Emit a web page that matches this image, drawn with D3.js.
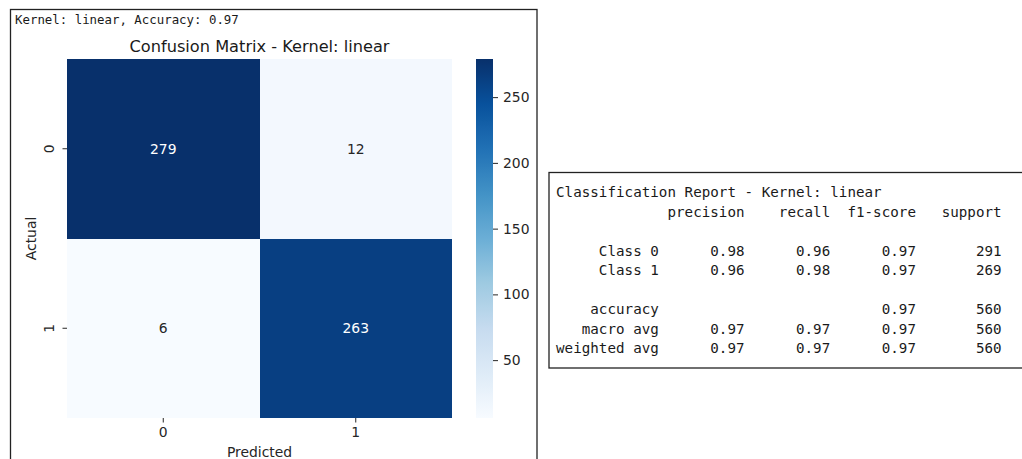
<!DOCTYPE html>
<html>
<head>
<meta charset="utf-8">
<script src="https://cdn.jsdelivr.net/npm/d3@7"></script>
<style>
  html, body { margin: 0; padding: 0; background: #fff; }
  svg { display: block; }
</style>
</head>
<body>
<svg id="fig" width="1022" height="459"></svg>
<script>
// Confusion matrix for the linear-kernel SVM
const actualLabels = ["0", "1"];
const predictedLabels = ["0", "1"];
const matrix = [
  [279, 12],
  [6, 263]
];
const colorbarTicks = [50, 100, 150, 200, 250];
const kernel = "linear";
const accuracy = 0.97;

// Classification report rows
const reportHeader = ["precision", "recall", "f1-score", "support"];
const reportClasses = ["Class 0", "Class 1"];
const precision = [0.98, 0.96];
const recall = [0.96, 0.98];
const f1 = [0.97, 0.97];
const support = [291, 269];
const avgLabels = ["macro avg", "weighted avg"];
const avgPrecision = [0.97, 0.97];
const avgRecall = [0.97, 0.97];
const avgF1 = [0.97, 0.97];
const totalSupport = 560;

const svg = d3.select("#fig");
const sans = "'DejaVu Sans', sans-serif";
const mono = "'DejaVu Sans Mono', monospace";

// Matplotlib-style "Blues" colormap (linear segments between ColorBrewer stops)
const bluesStops = ["#f7fbff", "#deebf7", "#c6dbef", "#9ecae1", "#6baed6", "#4292c6", "#2171b5", "#08519c", "#08306b"];
const blues = d3.scaleLinear()
  .domain(bluesStops.map((_, i) => i / (bluesStops.length - 1)))
  .range(bluesStops)
  .interpolate(d3.interpolateRgb)
  .clamp(true);

const flat = matrix.flat();
const vmin = d3.min(flat), vmax = d3.max(flat);
const norm = d3.scaleLinear().domain([vmin, vmax]).range([0, 1]);
const color = v => blues(norm(v));

// ---------- Left panel ----------
svg.append("rect")
  .attr("x", 10.5).attr("y", 9.5)
  .attr("width", 526.5).attr("height", 460)
  .attr("fill", "none").attr("stroke", "#222").attr("stroke-width", 1.3);

svg.append("text")
  .attr("x", 15).attr("y", 24)
  .attr("font-family", mono).attr("font-size", 12.4).attr("fill", "#1a1a1a")
  .text(`Kernel: ${kernel}, Accuracy: ${accuracy.toFixed(2)}`);

const hm = { x0: 67, x1: 452, y0: 59, y1: 418 };

const x = d3.scaleBand().domain(predictedLabels).range([hm.x0, hm.x1]);
const y = d3.scaleBand().domain(actualLabels).range([hm.y0, hm.y1]);

svg.append("text")
  .attr("x", (hm.x0 + hm.x1) / 2).attr("y", 52)
  .attr("text-anchor", "middle")
  .attr("font-family", sans).attr("font-size", 16.2).attr("fill", "#1a1a1a")
  .text(`Confusion Matrix - Kernel: ${kernel}`);

const cells = [];
matrix.forEach((row, i) => row.forEach((v, j) => cells.push({ r: actualLabels[i], c: predictedLabels[j], v })));

svg.append("g").selectAll("rect").data(cells).join("rect")
  .attr("x", d => x(d.c)).attr("y", d => y(d.r))
  .attr("width", x.bandwidth()).attr("height", y.bandwidth())
  .attr("fill", d => color(d.v))
  .attr("shape-rendering", "crispEdges");

svg.append("g").selectAll("text").data(cells).join("text")
  .attr("x", d => x(d.c) + x.bandwidth() / 2)
  .attr("y", d => y(d.r) + y.bandwidth() / 2)
  .attr("dy", "0.36em")
  .attr("text-anchor", "middle")
  .attr("font-family", sans).attr("font-size", 13.9)
  .attr("fill", d => norm(d.v) > 0.5 ? "#ffffff" : "#262626")
  .text(d => d.v);

// x axis
const xAxis = svg.append("g")
  .attr("transform", `translate(0,${hm.y1})`)
  .call(d3.axisBottom(x).tickSize(4.5).tickPadding(5));
xAxis.select(".domain").remove();
xAxis.selectAll("line").attr("stroke", "#262626").attr("stroke-width", 1);
xAxis.selectAll("text").attr("font-family", sans).attr("font-size", 13.9).attr("fill", "#262626");

svg.append("text")
  .attr("x", (hm.x0 + hm.x1) / 2).attr("y", 457)
  .attr("text-anchor", "middle")
  .attr("font-family", sans).attr("font-size", 13.9).attr("fill", "#262626")
  .text("Predicted");

// y axis with rotated tick labels centred on their rows
const yAxis = svg.append("g")
  .attr("transform", `translate(${hm.x0},0)`)
  .call(d3.axisLeft(y).tickSize(4.5).tickPadding(5));
yAxis.select(".domain").remove();
yAxis.selectAll("line").attr("stroke", "#262626").attr("stroke-width", 1);
yAxis.selectAll(".tick text")
  .attr("font-family", sans).attr("font-size", 13.9).attr("fill", "#262626")
  .attr("text-anchor", "middle")
  .attr("x", 0).attr("y", 0).attr("dy", "0.36em")
  .attr("transform", "translate(-18,0) rotate(-90)");

svg.append("text")
  .attr("transform", `translate(36,${(hm.y0 + hm.y1) / 2}) rotate(-90)`)
  .attr("text-anchor", "middle")
  .attr("font-family", sans).attr("font-size", 13.9).attr("fill", "#262626")
  .text("Actual");

// colorbar
const cb = { x: 476, w: 17 };
const cbScale = d3.scaleLinear().domain([vmin, vmax]).range([hm.y1, hm.y0]);
const defs = svg.append("defs");
const grad = defs.append("linearGradient").attr("id", "cbgrad")
  .attr("x1", 0).attr("y1", 1).attr("x2", 0).attr("y2", 0);
d3.range(0, 1.0001, 1 / 64).forEach(t => {
  grad.append("stop").attr("offset", t).attr("stop-color", blues(t));
});
svg.append("rect")
  .attr("x", cb.x).attr("y", hm.y0)
  .attr("width", cb.w).attr("height", hm.y1 - hm.y0)
  .attr("fill", "url(#cbgrad)");

const cbAxis = svg.append("g")
  .attr("transform", `translate(${cb.x + cb.w},0)`)
  .call(d3.axisRight(cbScale).tickValues(colorbarTicks).tickSize(5).tickPadding(5));
cbAxis.select(".domain").remove();
cbAxis.selectAll("line").attr("stroke", "#262626");
cbAxis.selectAll("text").attr("font-family", sans).attr("font-size", 13.9).attr("fill", "#262626");

// ---------- Right panel: classification report ----------
svg.append("rect")
  .attr("x", 549).attr("y", 172.5)
  .attr("width", 500).attr("height", 195.5)
  .attr("fill", "none").attr("stroke", "#222").attr("stroke-width", 1.3);

const pad = (s, n) => String(s).padStart(n, " ");
const f2 = v => v.toFixed(2);
const lines = [
  `Classification Report - Kernel: ${kernel}`,
  pad("", 12) + reportHeader.map(h => pad(h, 10)).join(""),
  ""
];
reportClasses.forEach((c, i) => {
  lines.push(pad(c, 12) + pad(f2(precision[i]), 10) + pad(f2(recall[i]), 10) + pad(f2(f1[i]), 10) + pad(support[i], 10));
});
lines.push("");
lines.push(pad("accuracy", 12) + pad("", 20) + pad(f2(accuracy), 10) + pad(totalSupport, 10));
avgLabels.forEach((a, i) => {
  lines.push(pad(a, 12) + pad(f2(avgPrecision[i]), 10) + pad(f2(avgRecall[i]), 10) + pad(f2(avgF1[i]), 10) + pad(totalSupport, 10));
});

// lay each text run on a fixed character grid
const cw = 8.57, rx = 556, ry = 197, lh = 19.5;
const runs = [];
lines.forEach((line, i) => {
  const re = /\S+(?: \S+)*/g;
  let m;
  while ((m = re.exec(line)) !== null) {
    runs.push({ text: m[0], col: m.index, len: m[0].length, row: i });
  }
});
svg.append("g").selectAll("text").data(runs).join("text")
  .attr("x", d => rx + d.col * cw)
  .attr("y", d => ry + d.row * lh)
  .attr("textLength", d => d.len * cw)
  .attr("lengthAdjust", "spacing")
  .attr("font-family", mono).attr("font-size", 14.2).attr("fill", "#1a1a1a")
  .attr("xml:space", "preserve")
  .text(d => d.text);
</script>
</body>
</html>
